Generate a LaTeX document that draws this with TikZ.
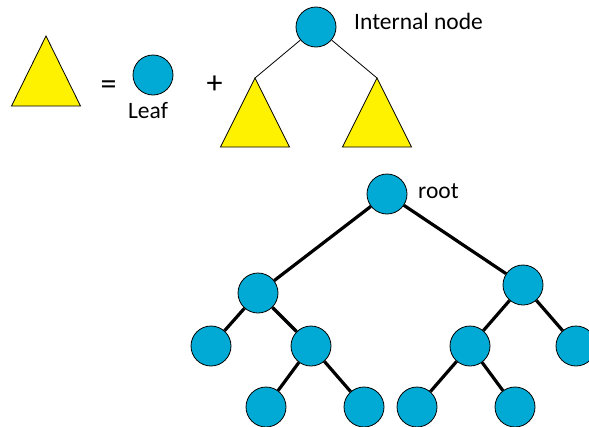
\documentclass[tikz,border=0pt]{standalone}
\usepackage{fontspec}
\setmainfont{Carlito}
\definecolor{nodeblue}{RGB}{0,170,212}

\begin{document}
\begin{tikzpicture}[x=1pt,y=-1pt,
  vertex/.style={draw,circle,fill=nodeblue,minimum size=40pt,inner sep=0pt,line width=0.8pt},
  subtree/.style={draw,fill=yellow,line width=0.8pt,line join=miter},
  word/.style={font=\fontsize{23.5}{28}\selectfont,inner sep=0pt},
  sign/.style={font=\fontsize{32}{38}\selectfont,inner sep=0pt,anchor=base},
  thin edge/.style={line width=0.8pt},
  thick edge/.style={line width=3.2pt}]
\path[use as bounding box] (0,0) rectangle (589,426);
\clip (0,0) rectangle (589,426);

\coordinate (tbig) at (46,36);
\draw[subtree] (tbig) -- ++(-34.5,70) -- ++(69,0) -- cycle;
\node[sign] (eq) at (108.5,94) {=};
\node[vertex] (leaf) at (153,75) {};
\node[word,anchor=base] (leaflbl) at (148,118) {Leaf};
\node[sign] (plus) at (214.5,93.5) {+};

\node[vertex] (inner) at (316,27) {};
\node[word,anchor=base west] (innerlbl) at (354,29) {Internal node};
\coordinate (tleft) at (255,78);
\coordinate (tright) at (377,78);
\draw[subtree] (tleft) -- ++(-34.5,69) -- ++(69,0) -- cycle;
\draw[subtree] (tright) -- ++(-34.5,69) -- ++(69,0) -- cycle;
\draw[thin edge] (inner) -- (tleft);
\draw[thin edge] (inner) -- (tright);

\node[vertex] (root) at (387,194) {};
\node[word,anchor=base west] (rootlbl) at (418,198) {root};
\node[vertex] (l) at (258,293) {};
\node[vertex] (r) at (523,285) {};
\node[vertex] (ll) at (211,346) {};
\node[vertex] (lr) at (311,346) {};
\node[vertex] (lrl) at (266,407) {};
\node[vertex] (lrr) at (364,407) {};
\node[vertex] (rl) at (470,346) {};
\node[vertex] (rr) at (576,346) {};
\node[vertex] (rll) at (417,407) {};
\node[vertex] (rlr) at (515,407) {};

\draw[thick edge] (root) -- (l);
\draw[thick edge] (root) -- (r);
\draw[thick edge] (l) -- (ll);
\draw[thick edge] (l) -- (lr);
\draw[thick edge] (lr) -- (lrl);
\draw[thick edge] (lr) -- (lrr);
\draw[thick edge] (r) -- (rl);
\draw[thick edge] (r) -- (rr);
\draw[thick edge] (rl) -- (rll);
\draw[thick edge] (rl) -- (rlr);
\end{tikzpicture}
\end{document}
